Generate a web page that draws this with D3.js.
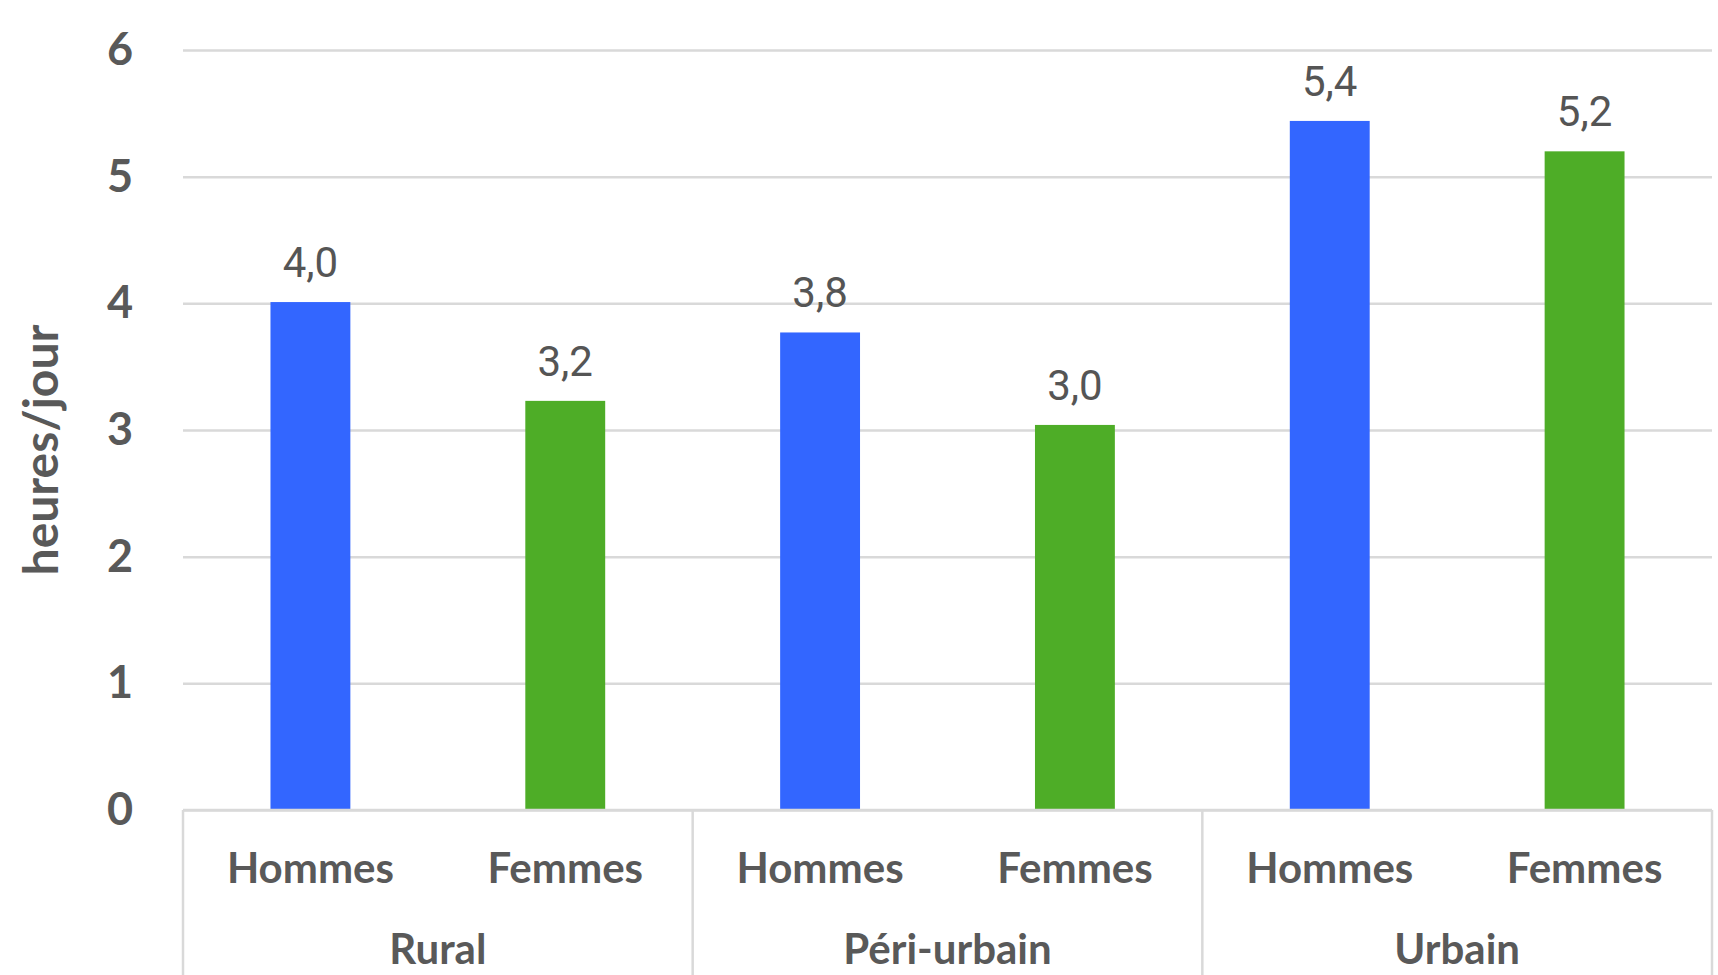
<!DOCTYPE html>
<html lang="fr">
<head>
<meta charset="utf-8">
<script src="https://cdn.jsdelivr.net/npm/d3@7"></script>
<style>
  html, body { margin: 0; padding: 0; background: #ffffff; }
  svg { display: block; }
</style>
</head>
<body>
<svg id="chart" width="1718" height="975"></svg>
<script>
// Temps quotidien (heures/jour) par milieu de résidence et par sexe
const zones = ["Rural", "Péri-urbain", "Urbain"];
const sexes = ["Hommes", "Femmes"];
const hommes = [4.01, 3.77, 5.44];
const femmes = [3.23, 3.04, 5.20];
const yTicks = [0, 1, 2, 3, 4, 5, 6];
const yTitle = "heures/jour";
const sexColors = ["#3366ff", "#4ead27"];

const rows = zones.flatMap((z, i) => [
  { zone: z, sexe: sexes[0], value: hommes[i] },
  { zone: z, sexe: sexes[1], value: femmes[i] }
]);

const W = 1718, H = 975;
const plot = { left: 183, right: 1712, top: 50, bottom: 810 };
const textColor = "#595959";
const gridColor = "#d9d9d9";

const svg = d3.select("#chart");

const x0 = d3.scaleBand().domain(zones).range([plot.left, plot.right]);
const x1 = d3.scaleBand().domain(sexes).range([0, x0.bandwidth()]);
const barW = x1.bandwidth() / 3.19;
const y = d3.scaleLinear().domain([0, 6]).range([plot.bottom, plot.top]);

// Grille horizontale et graduations de l'axe des valeurs
const yAxis = svg.append("g")
  .attr("transform", `translate(${plot.left},0)`)
  .call(d3.axisLeft(y).tickValues(yTicks).tickFormat(d3.format("d"))
    .tickSize(-(plot.right - plot.left)).tickPadding(50));
yAxis.select(".domain").remove();
yAxis.selectAll(".tick line")
  .attr("stroke", gridColor).attr("stroke-width", 2.5);
yAxis.selectAll(".tick text")
  .attr("fill", textColor)
  .style("font-family", "Lato, sans-serif")
  .style("font-weight", 700)
  .style("font-size", "45px");

// Titre de l'axe
svg.append("text")
  .attr("transform", `translate(58,${(plot.top + plot.bottom) / 2 + 20}) rotate(-90)`)
  .attr("text-anchor", "middle")
  .attr("fill", textColor)
  .style("font-family", "Lato, sans-serif")
  .style("font-weight", 700)
  .style("font-size", "48px")
  .text(yTitle);

// Barres
const bars = svg.append("g");
bars.selectAll("rect")
  .data(rows)
  .join("rect")
  .attr("x", d => x0(d.zone) + x1(d.sexe) + (x1.bandwidth() - barW) / 2)
  .attr("y", d => y(d.value))
  .attr("width", barW)
  .attr("height", d => y(0) - y(d.value))
  .attr("fill", d => sexColors[sexes.indexOf(d.sexe)]);

// Étiquettes de valeurs
const fmt = v => d3.format(".1f")(v).replace(".", ",");
svg.append("g").selectAll("text")
  .data(rows)
  .join("text")
  .attr("x", d => x0(d.zone) + x1(d.sexe) + x1.bandwidth() / 2)
  .attr("y", d => y(d.value) - 25)
  .attr("text-anchor", "middle")
  .attr("fill", "#555555")
  .style("font-family", "Roboto, sans-serif")
  .style("font-size", "42px")
  .text(d => fmt(d.value));

// Axe des catégories à deux niveaux
const axisG = svg.append("g");
axisG.append("line")
  .attr("x1", plot.left).attr("x2", plot.right)
  .attr("y1", plot.bottom).attr("y2", plot.bottom)
  .attr("stroke", gridColor).attr("stroke-width", 2.5);
const bounds = zones.map(z => x0(z)).concat([x0(zones[zones.length - 1]) + x0.bandwidth()]);
axisG.selectAll("line.sep")
  .data(bounds)
  .join("line")
  .attr("class", "sep")
  .attr("x1", d => d).attr("x2", d => d)
  .attr("y1", plot.bottom).attr("y2", H)
  .attr("stroke", gridColor).attr("stroke-width", 2.5);

axisG.selectAll("text.sexe")
  .data(rows)
  .join("text")
  .attr("class", "sexe")
  .attr("x", d => x0(d.zone) + x1(d.sexe) + x1.bandwidth() / 2)
  .attr("y", 883)
  .attr("text-anchor", "middle")
  .attr("fill", textColor)
  .style("font-family", "Lato, sans-serif")
  .style("font-weight", 700)
  .style("font-size", "42px")
  .text(d => d.sexe);

axisG.selectAll("text.zone")
  .data(zones)
  .join("text")
  .attr("class", "zone")
  .attr("x", d => x0(d) + x0.bandwidth() / 2)
  .attr("y", 964)
  .attr("text-anchor", "middle")
  .attr("fill", textColor)
  .style("font-family", "Lato, sans-serif")
  .style("font-weight", 700)
  .style("font-size", "42px")
  .text(d => d);
</script>
</body>
</html>
